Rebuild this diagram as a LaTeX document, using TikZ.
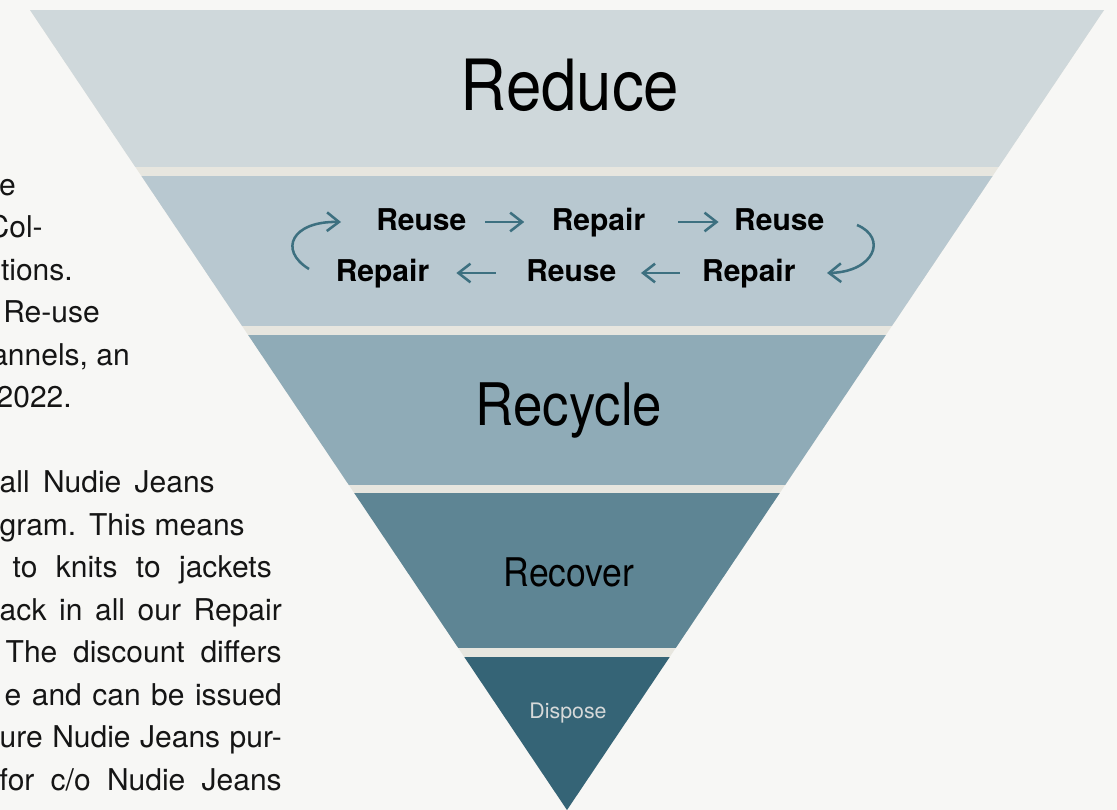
\documentclass[tikz,border=0pt]{standalone}
\usepackage{fontspec}
\setmainfont{TeX Gyre Heros}
\newfontfamily\labelfont{TeX Gyre Heros}[FakeStretch=0.9]
\newfontfamily\rowfont{TeX Gyre Heros}
\usetikzlibrary{arrows.meta}
\definecolor{bg}{HTML}{F7F7F5}
\definecolor{gapc}{HTML}{E7E6DF}
\definecolor{bandA}{HTML}{CFD8DB}
\definecolor{bandB}{HTML}{B8C8D0}
\definecolor{bandC}{HTML}{8FABB7}
\definecolor{bandD}{HTML}{5E8594}
\definecolor{bandE}{HTML}{356476}
\definecolor{arrc}{HTML}{3D7080}
\definecolor{txt}{HTML}{151515}
\definecolor{disp}{HTML}{D6D9D9}
\tikzset{
  lefttext/.style={anchor=base east, inner sep=0pt, text=txt, font=\fontsize{22.5pt}{27pt}\selectfont},
  title/.style={anchor=base, inner sep=0pt, text=black},
  rowtext/.style={anchor=base, inner sep=0pt, text=black, text height=17pt, text depth=5pt,
    font=\rowfont\bfseries\fontsize{22.5pt}{27pt}\selectfont},
  arr/.style={draw=arrc, line width=1.9pt, -{Straight Barb[length=9pt,width=14pt,line width=1.9pt]}}
}
\begin{document}
\begin{tikzpicture}[x=0.75pt,y=-0.75pt]
\useasboundingbox (0,0) rectangle (1117,810);
\fill[bg] (0,0) rectangle (1117,810);
% left column text (partly hidden)
\node[lefttext] (t1) at (16,195) {e};
\node[lefttext] (t2) at (43,237.5) {Col-};
\node[lefttext] (t3) at (73,280) {tions.};
\node[lefttext] (t4) at (100,322.5) {Re-use};
\node[lefttext] (t5) at (130,365) {annels, an};
\node[lefttext] (t6) at (72,407.5) {2022.};
\node[lefttext] (t7) at (215,492.5) {\makebox[161.25pt][s]{all Nudie Jeans}};
\node[lefttext] (t8) at (245,535) {\makebox[183.75pt][s]{gram. This means}};
\node[lefttext] (t9) at (272,577.5) {\makebox[194.25pt][s]{to knits to jackets}};
\node[lefttext] (t10) at (282,620) {\makebox[211.5pt][s]{ack in all our Repair}};
\node[lefttext] (t11) at (282,662.5) {\makebox[207pt][s]{The discount differs}};
\node[lefttext] (t12) at (282,705) {\makebox[207.75pt][s]{e and can be issued}};
\node[lefttext] (t13) at (282,747.5) {\makebox[211.5pt][s]{ure Nudie Jeans pur-}};
\node[lefttext] (t14) at (282,790) {\makebox[211.5pt][s]{for c/o Nudie Jeans}};
% triangle
\coordinate (TL) at (30,10);
\coordinate (TR) at (1104,10);
\coordinate (AP) at (567,810);
\begin{scope}
\clip (TL) -- (TR) -- (AP) -- cycle;
\fill[gapc] (0,0) rectangle (1117,810);
\fill[bandA] (0,10) rectangle (1117,167);
\fill[bandB] (0,176) rectangle (1117,326);
\fill[bandC] (0,335) rectangle (1117,485);
\fill[bandD] (0,493) rectangle (1117,648);
\fill[bandE] (0,657) rectangle (1117,810);
\end{scope}
% titles
\node[title, font=\labelfont\fontsize{53pt}{60pt}\selectfont] (reduce) at (570,110) {Reduce};
\node[title, font=\labelfont\fontsize{44pt}{50pt}\selectfont] (recycle) at (569,425.7) {Recycle};
\node[title, font=\labelfont\fontsize{29.6pt}{34pt}\selectfont] (recover) at (569,586.7) {Recover};
\node[anchor=center, inner sep=0pt, text=disp, font=\fontsize{16pt}{19pt}\selectfont] (dispose) at (568,713) {Dispose};
% reuse / repair cycle
\node[rowtext] (r1) at (421.3,230) {Reuse};
\node[rowtext] (p1) at (598.5,230) {Repair};
\node[rowtext] (r2) at (779.2,230) {Reuse};
\node[rowtext] (p2) at (382.5,281) {Repair};
\node[rowtext] (r3) at (571.3,281) {Reuse};
\node[rowtext] (p3) at (748.8,281) {Repair};
\draw[arr, shorten <=14pt, shorten >=20.5pt] (r1.east) -- (p1.west);
\draw[arr, shorten <=24.7pt, shorten >=11.5pt] (p1.east) -- (r2.west);
\draw[arr, shorten <=16.5pt, shorten >=18.3pt] (p3.west) -- (r3.east);
\draw[arr, shorten <=22.8pt, shorten >=20.2pt] (r3.west) -- (p2.east);
\coordinate (ls) at (309,269);
\coordinate (le) at (341,222);
\coordinate (rs) at (857,225);
\coordinate (re) at (827,273);
\draw[arr] (ls) .. controls (278,250) and (292,221) .. (le);
\draw[arr] (rs) .. controls (888,238) and (874,272) .. (re);
\end{tikzpicture}
\end{document}
